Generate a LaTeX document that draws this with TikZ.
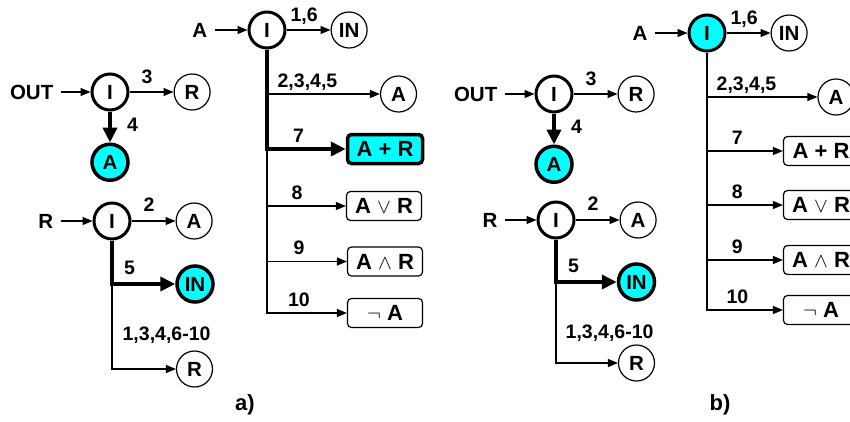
\documentclass[tikz,border=0pt]{standalone}
\usepackage{fontspec}
\setmainfont{Liberation Sans}
\usetikzlibrary{positioning,arrows.meta}
\definecolor{hl}{RGB}{0,255,255}
\tikzset{
  st/.style={circle,draw,line width=3pt,minimum size=36pt,inner sep=0pt},
  res/.style={circle,draw,line width=1.2pt,minimum size=36pt,inner sep=0pt},
  hit/.style={circle,draw,fill=hl,line width=3.5pt,minimum size=36pt,inner sep=0pt},
  op/.style={draw,rectangle,rounded corners=4pt,line width=1.2pt,minimum width=75pt,minimum height=29pt,inner sep=0pt,font=\fontsize{22}{22}\bfseries},
  inp/.style={inner xsep=7pt,inner ysep=2pt},
  lbl/.style={font=\fontsize{19.5}{19.5}\bfseries,inner sep=0pt,anchor=base,yshift=7pt},
  arr/.style={-{Triangle[length=10pt,width=8pt]},line width=1.3pt},
  harr/.style={-{Triangle[length=15pt,width=14pt]},line width=4pt}
}

\begin{document}
\begin{tikzpicture}[x=1pt,y=-1pt,node distance=44pt,font=\fontsize{20.5}{22}\selectfont\bfseries]
\useasboundingbox (0,0) rectangle (850,421);
\clip (0,0) rectangle (850,421);

% a) input A
\node[st] (iA) at (267,30) {I};
\node[inp,left=33pt of iA] (inA) {A};
\node[res,right=of iA] (aIN) {IN};
\node[res] (aA) at (398.5,94) {A};
\node[op,fill=hl,line width=3.5pt] (ar7) at (385,149) {A + R};
\node[op] (ar8) at (384,206) {A $\vee$ R};
\node[op] (ar9) at (385,261.5) {A $\wedge$ R};
\node[op] (ar10) at (385,313) {$\neg$ A};

\draw[arr] (inA) -- (iA);
\draw[arr] (iA) -- node[lbl,pos=0.4,yshift=1.5pt] {1,6} (aIN);
\draw[arr] (iA) |- node[lbl,anchor=base west,pos=0.5,xshift=10pt] {2,3,4,5} (aA);
\draw[arr] (iA) |- node[lbl,pos=0.69] {8} (ar8);
\draw[arr] (iA) |- node[lbl,pos=0.7] {9} (ar9);
\draw[arr] (iA) |- node[lbl,pos=0.7] {10} (ar10);
\draw[harr] (iA) |- node[lbl,pos=0.7] {7} (ar7);

% a) input OUT
\node[st] (iO) at (110,92) {I};
\node[inp,left=30pt of iO] (inO) {OUT};
\node[res,right=of iO] (oR) {R};
\node[hit,below=31pt of iO] (oA) {A};

\draw[arr] (inO) -- (iO);
\draw[arr] (iO) -- node[lbl,pos=0.4,yshift=1.5pt] {3} (oR);
\draw[harr] (iO) -- node[lbl,anchor=west,xshift=15pt,yshift=-5pt] {4} (oA);

% a) input R
\node[st] (iR) at (112,221) {I};
\node[inp,left=32pt of iR] (inR) {R};
\node[res,right=of iR] (rA) {A};
\node[hit] (rIN) at (195,284) {IN};
\node[res] (rR) at (194.5,369) {R};

\draw[arr] (inR) -- (iR);
\draw[arr] (iR) -- node[lbl,pos=0.4,yshift=2.5pt] {2} (rA);
\draw[arr] (iR) |- node[lbl,anchor=base west,pos=0.5,xshift=10pt,yshift=22pt] {1,3,4,6-10} (rR);
\draw[harr] (iR) |- node[lbl,anchor=base west,pos=0.5,xshift=10pt,yshift=2.5pt] {5} (rIN);

\node[font=\fontsize{22}{22}\selectfont\bfseries] (capa) at (245,405) {a)};

% b) input A
\node[st,fill=hl] (biA) at (707,33) {I};
\node[inp,left=33pt of biA] (binA) {A};
\node[res,right=of biA] (baIN) {IN};
\node[res] (baA) at (836,97) {A};
\node[op] (bar7) at (821,151) {A + R};
\node[op] (bar8) at (821,205) {A $\vee$ R};
\node[op] (bar9) at (821,260) {A $\wedge$ R};
\node[op] (bar10) at (821,310) {$\neg$ A};

\draw[arr] (binA) -- (biA);
\draw[arr] (biA) -- node[lbl,pos=0.4,yshift=1.5pt] {1,6} (baIN);
\draw[arr] (biA) |- node[lbl,anchor=base west,pos=0.5,xshift=9pt] {2,3,4,5} (baA);
\draw[arr] (biA) |- node[lbl,pos=0.7] {7} (bar7);
\draw[arr] (biA) |- node[lbl,pos=0.7] {8} (bar8);
\draw[arr] (biA) |- node[lbl,pos=0.7] {9} (bar9);
\draw[arr] (biA) |- node[lbl,pos=0.7] {10} (bar10);

% b) input OUT
\node[st] (biO) at (554,94) {I};
\node[inp,left=30pt of biO] (binO) {OUT};
\node[res,right=of biO] (boR) {R};
\node[hit,below=31pt of biO] (boA) {A};

\draw[arr] (binO) -- (biO);
\draw[arr] (biO) -- node[lbl,pos=0.4,yshift=1.5pt] {3} (boR);
\draw[harr] (biO) -- node[lbl,anchor=west,xshift=15pt,yshift=-5pt] {4} (boA);

% b) input R
\node[st] (biR) at (556,220) {I};
\node[inp,left=32pt of biR] (binR) {R};
\node[res,right=of biR] (brA) {A};
\node[hit] (brIN) at (636.5,282) {IN};
\node[res] (brR) at (636.5,363) {R};

\draw[arr] (binR) -- (biR);
\draw[arr] (biR) -- node[lbl,pos=0.4,yshift=2.5pt] {2} (brA);
\draw[arr] (biR) |- node[lbl,anchor=base west,pos=0.5,xshift=9pt,yshift=18pt] {1,3,4,6-10} (brR);
\draw[harr] (biR) |- node[lbl,anchor=base west,pos=0.5,xshift=10pt,yshift=2.5pt] {5} (brIN);

\node[font=\fontsize{22}{22}\selectfont\bfseries] (capb) at (720,405) {b)};
\end{tikzpicture}
\end{document}
